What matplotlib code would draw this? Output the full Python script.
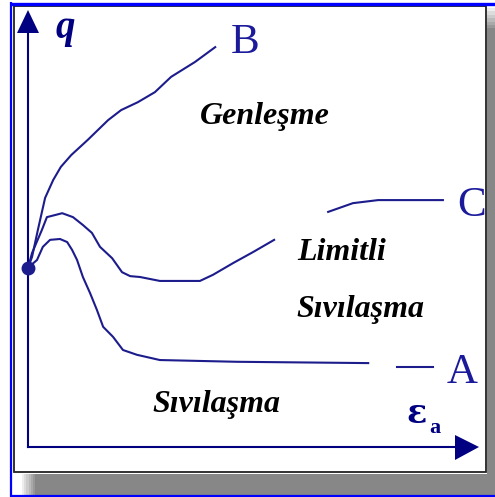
import matplotlib.pyplot as plt
from matplotlib.patches import Rectangle, Polygon

# curve values, strain eps_a (0..10) vs deviator stress q (0..10)
eps_B = [0, 0.09, 0.22, 0.38, 0.56, 0.73, 0.96, 1.33, 1.78, 2.07, 2.44, 2.82, 3.18, 3.71, 4.16]
q_B = [4.10, 4.35, 4.97, 5.70, 6.11, 6.41, 6.68, 7.03, 7.48, 7.71, 7.89, 8.12, 8.47, 8.81, 9.15]

eps_C1 = [0, 0.09, 0.31, 0.42, 0.76, 1.00, 1.22, 1.42, 1.60, 1.87, 2.09, 2.27, 2.49, 2.93,
          3.82, 4.11, 4.56, 5.00, 5.47]
q_C1 = [4.10, 4.44, 4.97, 5.26, 5.35, 5.26, 5.08, 4.90, 4.58, 4.32, 4.00, 3.91, 3.89, 3.80,
        3.80, 3.94, 4.21, 4.46, 4.74]
eps_C2 = [6.67, 7.22, 7.78, 9.22]
q_C2 = [5.38, 5.58, 5.65, 5.65]

eps_A1 = [0, 0.20, 0.33, 0.49, 0.71, 0.87, 0.98, 1.09, 1.22, 1.38, 1.53, 1.67, 1.89, 2.11,
          2.42, 2.93, 4.64, 7.56]
q_A1 = [4.10, 4.28, 4.58, 4.74, 4.76, 4.69, 4.51, 4.28, 3.89, 3.52, 3.14, 2.75, 2.52, 2.22,
        2.11, 1.99, 1.95, 1.92]
eps_A2 = [8.20, 9.00]
q_A2 = [1.83, 1.83]

start_eps, start_q = 0, 4.10

W, H = 495, 497
navy = '#000080'
line_col = '#1c1c8c'
gray = '#878787'

fig = plt.figure(figsize=(W / 100, H / 100), dpi=100)

# background axes in pixel units for frame, axes arrows and labels
bg = fig.add_axes([0, 0, 1, 1])
bg.set_xlim(0, W)
bg.set_ylim(H, 0)
bg.axis('off')

# drop shadow
bg.add_patch(Rectangle((35, 474), W - 35, 21, color=gray, lw=0))
bg.add_patch(Rectangle((487, 28), 8, 467, color=gray, lw=0))
for k in range(6):
    bg.add_patch(Rectangle((22 + k * 2.2, 474), 2.2, 21, color=gray, lw=0, alpha=(k + 1) / 7))
    bg.add_patch(Rectangle((487, 8 + k * 3.4), 8, 3.4, color=gray, lw=0, alpha=(k + 1) / 7))

# blue outer lines
bg.plot([11, 495], [3.5, 3.5], color='#0000ff', lw=2.4, solid_capstyle='butt')
bg.plot([11, 11], [2, 497], color='#0000ff', lw=1.6, solid_capstyle='butt')
bg.plot([11, 495], [495.5, 495.5], color='#0000ff', lw=1.6, solid_capstyle='butt')

# black frame
bg.add_patch(Rectangle((13.5, 5.5), 472, 466.5, fill=False, ec='#222222', lw=1.3))

# axes with arrows
bg.plot([28, 28], [447, 30], color=navy, lw=1.5)
bg.plot([28, 456], [447, 447], color=navy, lw=1.5)
bg.add_patch(Polygon([[28, 10], [17, 33], [39, 33]], color=navy, lw=0))
bg.add_patch(Polygon([[479, 447], [455, 435], [455, 460]], color=navy, lw=0))

# axis labels
bg.text(55, 38, 'q', fontsize=28, family='Liberation Serif', style='italic',
        weight='bold', color=navy, va='baseline')
bg.text(406, 423, 'ε', fontsize=24, family='DejaVu Serif', weight='bold',
        color=navy, va='baseline')
bg.text(429, 433, 'a', fontsize=16, family='Liberation Serif', weight='bold',
        color=navy, va='baseline')

# curve end labels
for lab, x, y in [('B', 231, 53), ('C', 457, 216), ('A', 447, 383)]:
    bg.text(x, y, lab, fontsize=31, family='Liberation Serif', color='#1a1a9a',
            va='baseline')

# region labels
for lab, x, y in [('Genleşme', 200, 124), ('Limitli', 297, 260),
                  ('Sıvılaşma', 296, 317), ('Sıvılaşma', 152, 412)]:
    bg.text(x, y, lab, fontsize=23, family='Liberation Serif', style='italic',
            weight='bold', color='black', va='baseline')

# data axes: origin at the arrow crossing
ax = fig.add_axes([28 / W, (H - 447) / H, 450 / W, 437 / H])
ax.set_xlim(0, 10)
ax.set_ylim(0, 10)
ax.axis('off')
ax.patch.set_alpha(0)

for xs, ys in [(eps_B, q_B), (eps_C1, q_C1), (eps_C2, q_C2), (eps_A1, q_A1), (eps_A2, q_A2)]:
    ax.plot(xs, ys, color=line_col, lw=1.5, clip_on=False, solid_joinstyle='round')
ax.plot([start_eps], [start_q], 'o', color=line_col, ms=9, clip_on=False)

fig.savefig('out.png', dpi=100)
